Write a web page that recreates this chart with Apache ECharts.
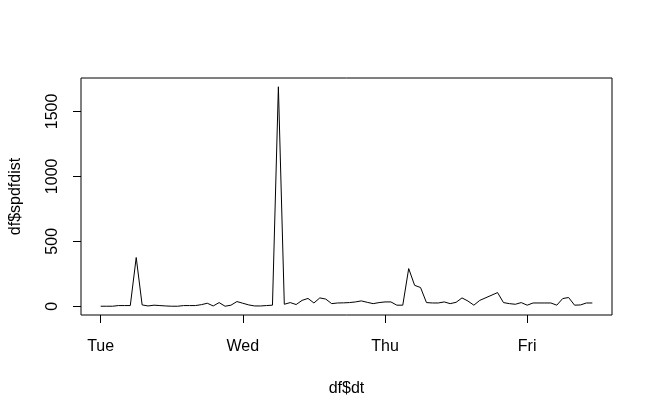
<!DOCTYPE html>
<html>
<head>
<meta charset="utf-8">
<script src="https://cdn.jsdelivr.net/npm/echarts@6/dist/echarts.min.js"></script>
<style>
  html, body { margin: 0; padding: 0; background: #fff; }
  #chart { width: 653px; height: 413px; }
</style>
</head>
<body>
<div id="chart"></div>
<script>
// hours since Tue 00:00
var hours = [0, 1, 2, 3, 4, 5, 6, 7, 8, 9, 10, 11, 12, 13, 14, 15, 16, 17, 18, 19,
    20, 21, 22, 23, 24, 25, 26, 27, 28, 29, 30, 31, 32, 33, 34, 35, 36, 37, 38, 39,
    40, 41, 42, 43, 44, 45, 46, 47, 48, 49, 50, 51, 52, 53, 54, 55, 56, 57, 58, 59,
    60, 61, 62, 63, 64, 67, 68, 69, 70, 71, 72, 73, 74, 75, 76, 77, 78, 79, 80, 81, 82, 83];
var spdfdist = [0, 0, 0, 5, 5, 5, 375, 10, 2, 8, 5, 2, 0, 0, 5, 5, 5, 12, 23, 2,
    28, 0, 8, 36, 23, 10, 2, 2, 5, 8, 1690, 15, 28, 13, 45, 60, 25, 64, 55, 20,
    25, 26, 28, 33, 41, 30, 20, 28, 33, 33, 8, 8, 290, 161, 144, 28, 25, 25, 33, 20,
    30, 64, 40, 8, 45, 105, 28, 20, 15, 28, 8, 25, 25, 25, 25, 8, 59, 67, 8, 10, 25, 25];
var dayTicks = [0, 24, 48, 72];
var dayNames = ['Tue', 'Wed', 'Thu', 'Fri'];
var yTicks = [0, 500, 1000, 1500];

var data = hours.map(function (h, i) { return [h, spdfdist[i]]; });
var xPad = 83 * 0.04;
var yPad = 1690 * 0.04;

var myChart = echarts.init(document.getElementById('chart'));
var option = {
    animation: false,
    textStyle: { fontFamily: 'Liberation Sans, Arial, sans-serif' },
    grid: {
        left: 78, top: 78, right: 41, bottom: 98,
        show: true,
        borderColor: '#000',
        borderWidth: 1,
        backgroundColor: 'transparent'
    },
    xAxis: {
        type: 'value',
        min: -xPad,
        max: 83 + xPad,
        name: 'df$dt',
        nameLocation: 'middle',
        nameGap: 66,
        nameTextStyle: { color: '#000', fontSize: 16 },
        axisLine: { show: false, onZero: false },
        splitLine: { show: false },
        axisTick: { show: true, length: 8, customValues: dayTicks, lineStyle: { color: '#000' } },
        axisLabel: {
            customValues: dayTicks,
            margin: 24,
            color: '#000',
            fontSize: 16,
            formatter: function (v) { return dayNames[dayTicks.indexOf(v)]; }
        }
    },
    yAxis: {
        type: 'value',
        min: -yPad,
        max: 1690 + yPad,
        name: 'df$spdfdist',
        nameLocation: 'middle',
        nameGap: 57,
        nameRotate: 90,
        nameTextStyle: { color: '#000', fontSize: 16 },
        axisLine: { show: false, onZero: false },
        splitLine: { show: false },
        axisTick: { show: true, length: 8, customValues: yTicks, lineStyle: { color: '#000' } },
        axisLabel: {
            customValues: yTicks,
            rotate: 90,
            margin: 20,
            color: '#000',
            fontSize: 16,
            formatter: function (v) { return String(v); }
        }
    },
    series: [
        {
            type: 'line',
            data: data,
            showSymbol: false,
            symbol: 'none',
            lineStyle: { color: '#000', width: 1 }
        }
    ]
};
myChart.setOption(option);
</script>
</body>
</html>
